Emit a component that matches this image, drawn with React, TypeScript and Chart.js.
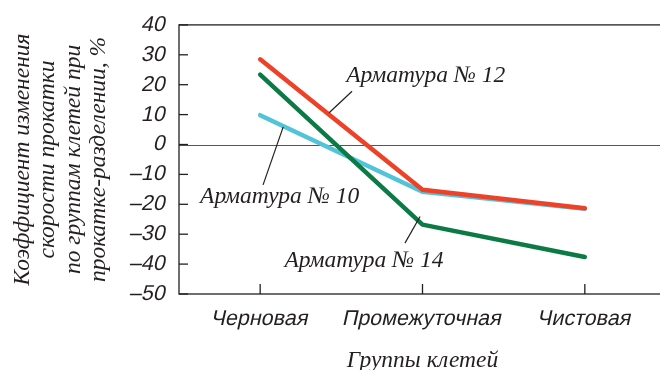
import React, { useEffect, useRef } from "react";
import { Chart, registerables } from "chart.js";

Chart.register(...registerables);

// ---- data ----
const categories = ["Черновая", "Промежуточная", "Чистовая"];
const seriesNames = ["Арматура № 10", "Арматура № 12", "Арматура № 14"];
const armatura10 = [9.8, -15.8, -21.5];
const armatura12 = [28.5, -15.1, -21.3];
const armatura14 = [23.4, -26.8, -37.6];
const yMin = -50;
const yMax = 40;
const yStep = 10;
const yTitleLines = [
  "Коэффициент изменения",
  "скорости прокатки",
  "по группам клетей при",
  "прокатке-разделении, %",
];
const xTitle = "Группы клетей";

// annotation labels (data coordinates: category index, value)
const labelCatPos = [0.12, 1.02, 0.64];
const labelValPos = [-17.5, 22.8, -38.9];
// leader lines from label to line (data coordinates)
const leaderFromCat = [0.142, 0.566, 0.985];
const leaderFromVal = [5.9, 17.8, -24.1];
const leaderToCat = [0.018, 0.425, 0.892];
const leaderToVal = [-13.5, 10.6, -33.0];

const colors = ["#52C3D8", "#EE4127", "#0B7A45"];
const ink = "#231F20";
const sansFont = "'Liberation Sans', Arial, sans-serif";
const serifFont = "'Liberation Serif', 'DejaVu Serif', 'Times New Roman', serif";
const tickFont = { family: sansFont, size: 21.5 };
const slant = -0.22;

const yLabel = (v: number) => (v < 0 ? "–" + Math.abs(v) : String(v));

const framePlugin = {
  id: "frame",
  beforeDatasetsDraw(chart: any) {
    const { ctx, chartArea } = chart;
    const { left, right, top, bottom } = chartArea;
    const y = chart.scales.y;
    const x = chart.scales.x;
    ctx.save();
    // zero line
    ctx.strokeStyle = "#555";
    ctx.lineWidth = 1;
    const y0 = Math.round(y.getPixelForValue(0)) + 0.5;
    ctx.beginPath();
    ctx.moveTo(left, y0);
    ctx.lineTo(right, y0);
    ctx.stroke();
    // frame
    ctx.strokeStyle = ink;
    ctx.lineWidth = 1.3;
    ctx.strokeRect(left, top, right - left, bottom - top);
    // inner ticks on y
    y.ticks.forEach((_t: any, i: number) => {
      const py = y.getPixelForTick(i);
      ctx.beginPath();
      ctx.moveTo(left, py);
      ctx.lineTo(left + 9, py);
      ctx.stroke();
    });
    // inner ticks on x
    categories.forEach((_c, i) => {
      const px = x.getPixelForValue(i);
      ctx.beginPath();
      ctx.moveTo(px, bottom);
      ctx.lineTo(px, bottom - 10);
      ctx.stroke();
    });
    ctx.restore();
  },
  afterDatasetsDraw(chart: any) {
    const { ctx, chartArea } = chart;
    const x = chart.scales.x;
    const y = chart.scales.y;
    const catPx = (c: number) => {
      const p0 = x.getPixelForValue(0);
      const p1 = x.getPixelForValue(1);
      return p0 + (p1 - p0) * c;
    };
    ctx.save();
    ctx.strokeStyle = ink;
    ctx.lineWidth = 1.2;
    seriesNames.forEach((_n, i) => {
      ctx.beginPath();
      ctx.moveTo(catPx(leaderFromCat[i]), y.getPixelForValue(leaderFromVal[i]));
      ctx.lineTo(catPx(leaderToCat[i]), y.getPixelForValue(leaderToVal[i]));
      ctx.stroke();
    });
    ctx.fillStyle = ink;
    ctx.font = `italic 23.5px ${serifFont}`;
    ctx.textAlign = "center";
    ctx.textBaseline = "middle";
    seriesNames.forEach((n, i) => {
      ctx.fillText(n, catPx(labelCatPos[i]), y.getPixelForValue(labelValPos[i]));
    });

    // slanted sans tick labels (drawn at the scales' own tick positions)
    ctx.font = `${tickFont.size}px ${tickFont.family}`;
    ctx.textAlign = "right";
    y.ticks.forEach((t: any, i: number) => {
      const py = y.getPixelForTick(i);
      ctx.save();
      ctx.translate(chartArea.left - 13, py);
      ctx.transform(1, 0, slant, 1, 0, 0);
      ctx.fillText(yLabel(t.value), 0, 0);
      ctx.restore();
    });
    ctx.textAlign = "center";
    categories.forEach((c, i) => {
      const px = x.getPixelForValue(i);
      ctx.save();
      ctx.translate(px, chartArea.bottom + 25);
      ctx.transform(1, 0, slant, 1, 0, 0);
      ctx.fillText(c, 0, 0);
      ctx.restore();
    });
    ctx.restore();
  },
};

export default function App() {
  const ref = useRef<HTMLCanvasElement | null>(null);
  useEffect(() => {
    document.body.style.margin = "0";
    document.body.style.overflow = "hidden";
    const canvas = ref.current;
    if (!canvas) return;
    const series = [armatura10, armatura12, armatura14];
    const orders = [2, 0, 1];
    const chart = new Chart(canvas, {
      type: "line",
      data: {
        labels: categories,
        datasets: series.map((d, i) => ({
          label: seriesNames[i],
          data: d,
          borderColor: colors[i],
          backgroundColor: colors[i],
          borderWidth: 4.5,
          pointRadius: 0,
          tension: 0,
          fill: false,
          borderCapStyle: "round" as const,
          borderJoinStyle: "round" as const,
          order: orders[i],
        })),
      },
      options: {
        animation: false,
        responsive: false,
        events: [],
        layout: { padding: { top: 21, right: 14, left: 0, bottom: 0 } },
        plugins: {
          legend: { display: false },
          tooltip: { enabled: false },
        },
        scales: {
          x: {
            type: "category",
            offset: true,
            grid: { display: false, drawTicks: false },
            border: { display: false },
            ticks: {
              color: "rgba(0,0,0,0)",
              padding: 13,
              maxRotation: 0,
              autoSkip: false,
              font: tickFont,
            },
            title: {
              display: true,
              text: xTitle,
              color: ink,
              font: { family: serifFont, size: 23.5, style: "italic", lineHeight: 1.0 },
              padding: { top: 0, bottom: -3 },
            },
            afterFit(scale: any) {
              scale.height = 76;
            },
          },
          y: {
            type: "linear",
            min: yMin,
            max: yMax,
            grid: { display: false, drawTicks: false },
            border: { display: false },
            ticks: {
              stepSize: yStep,
              color: "rgba(0,0,0,0)",
              padding: 12,
              font: tickFont,
              callback: (v: any) => yLabel(Number(v)),
            },
            title: {
              display: true,
              text: yTitleLines,
              color: ink,
              font: { family: serifFont, size: 23.5, style: "italic", lineHeight: 1.085 },
              padding: { top: 10, bottom: 0 },
            },
            afterFit(scale: any) {
              scale.width = 179;
            },
          },
        },
      },
      plugins: [framePlugin],
    });
    return () => chart.destroy();
  }, []);
  return (
    <div style={{ width: 680, height: 370 }}>
      <canvas ref={ref} width={680} height={370} style={{ display: "block" }} />
    </div>
  );
}
